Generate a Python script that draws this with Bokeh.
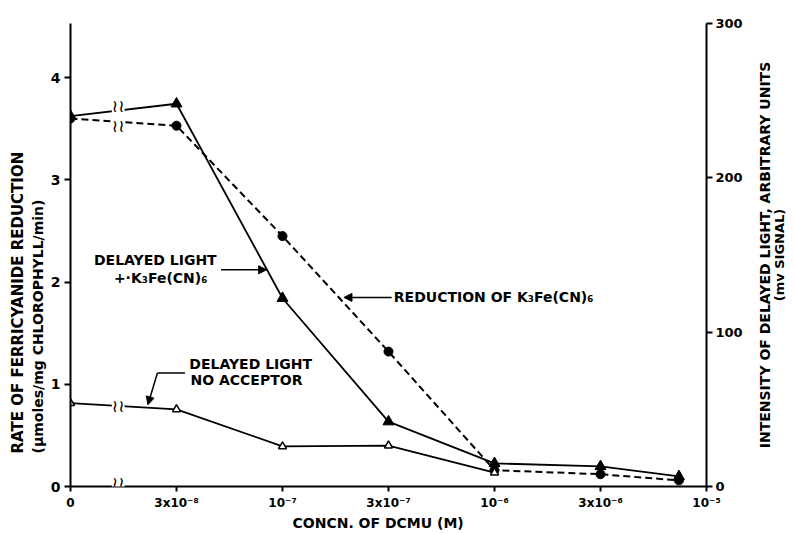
import math
import numpy as np
from bokeh.plotting import figure
from bokeh.layouts import row
from bokeh.models import Range1d, LinearAxis, FixedTicker, Label, Arrow, NormalHead, Title
from bokeh.embed import file_html
from bokeh.resources import INLINE

# ---- data ----
conc_labels = ["0", "3x10⁻⁸", "10⁻⁷", "3x10⁻⁷", "10⁻⁶", "3x10⁻⁶", "10⁻⁵"]
tick_pos = [0, 1, 2, 3, 4, 5, 6]
x_pts = [0, 1, 2, 3, 4, 5, 5.74]
reduction = [3.60, 3.53, 2.45, 1.32, 0.16, 0.12, 0.06]          # µmoles/mg chl/min
dl_acceptor = [240, 248, 122, 42, 15, 13, 6.5]                   # mV signal
x_noacc = [0, 1, 2, 3, 4]
dl_noacc = [54, 50, 26, 26.5, 9]                                 # mV signal
left_ticks = [0, 1, 2, 3, 4]
right_ticks = [0, 100, 200, 300]
break_x = 0.45

FONT = "DejaVu Sans"

p = figure(width=751, height=534, output_backend="svg", toolbar_location=None,
           x_range=Range1d(0, 6), y_range=Range1d(0, 4.53),
           min_border_left=70, min_border_right=45, min_border_top=23, min_border_bottom=48,
           background_fill_color="white", border_fill_color="white")
p.extra_y_ranges = {"right": Range1d(0, 300)}
p.outline_line_color = None
p.xgrid.visible = False
p.ygrid.visible = False

def style_axis(ax, size):
    ax.axis_line_width = 2
    ax.axis_line_color = "black"
    ax.major_tick_line_width = 2
    ax.minor_tick_line_color = None
    ax.major_label_text_font = FONT
    ax.major_label_text_font_style = "bold"
    ax.major_label_text_font_size = size
    ax.major_label_text_color = "black"

style_axis(p.xaxis[0], "12px")
style_axis(p.yaxis[0], "14px")

p.xaxis.ticker = FixedTicker(ticks=tick_pos)
p.xaxis.major_label_overrides = {t: l for t, l in zip(tick_pos, conc_labels)}
p.xaxis.major_tick_out = 5
p.xaxis.major_tick_in = 0
p.xaxis.major_label_standoff = 4

p.yaxis.ticker = FixedTicker(ticks=left_ticks)
p.yaxis.major_tick_out = 6
p.yaxis.major_tick_in = 0
p.yaxis.major_label_standoff = 4

ra = LinearAxis(y_range_name="right", ticker=FixedTicker(ticks=right_ticks))
style_axis(ra, "13px")
ra.major_tick_out = 6
ra.major_tick_in = 0
ra.major_label_standoff = 3
p.add_layout(ra, "right")

# axis titles placed as side titles
def side_title(text, side, offset, size, standoff):
    t = Title(text=text, align="left", offset=offset, text_font=FONT,
              text_font_style="bold", text_font_size=size, text_color="black",
              standoff=standoff)
    p.add_layout(t, side)

side_title("(µmoles/mg CHLOROPHYLL/min)", "left", 33, "14px", 3)
side_title("RATE OF FERRICYANIDE REDUCTION", "left", 33, "15px", 0)
side_title("CONCN. OF DCMU (M)", "below", 222, "14px", 0)

# lines
p.line(x_pts, reduction, line_color="black", line_width=2, line_dash="7 4")
p.line(x_pts, dl_acceptor, y_range_name="right", line_color="black", line_width=1.8)
p.line(x_noacc, dl_noacc, y_range_name="right", line_color="black", line_width=1.8)

# markers
p.scatter(x_pts, reduction, marker="circle", size=9, fill_color="black", line_color="black")
p.scatter(x_pts, dl_acceptor, y_range_name="right", marker="triangle", size=11,
          fill_color="black", line_color="black")
p.scatter(x_noacc, dl_noacc, y_range_name="right", marker="triangle", size=8,
          fill_color="white", line_color="black", line_width=1.5)

# axis breaks
def brk(x, y, rn="default"):
    lab = Label(x=x, y=y, text="≀≀", text_align="center", text_baseline="middle",
                text_font=FONT, text_font_size="17px", text_color="black",
                background_fill_color="white", y_range_name=rn)
    p.add_layout(lab)

brk(break_x, float(np.interp(break_x, x_pts, reduction)) - 0.04)
brk(break_x, float(np.interp(break_x, x_pts, dl_acceptor)) + 3, "right")
brk(break_x, float(np.interp(break_x, x_noacc, dl_noacc)), "right")
brk(break_x, 0.03)

# annotations
def txt(x, y, s, align="center", size="14px"):
    p.add_layout(Label(x=x, y=y, text=s, text_align=align, text_baseline="middle",
                       text_font=FONT, text_font_style="bold", text_font_size=size,
                       text_color="black"))

txt(0.80, 2.22, "DELAYED LIGHT")
txt(0.85, 2.04, "+·K₃Fe(CN)₆")
txt(3.05, 1.85, "REDUCTION OF K₃Fe(CN)₆", align="left")
txt(1.70, 1.20, "DELAYED LIGHT")
txt(1.66, 1.04, "NO ACCEPTOR")

head = dict(size=8, fill_color="black", line_color="black")
p.add_layout(Arrow(end=NormalHead(**head), x_start=1.42, y_start=2.12, x_end=1.85, y_end=2.12,
                   line_width=1.5))
p.add_layout(Arrow(end=NormalHead(**head), x_start=3.03, y_start=1.85, x_end=2.58, y_end=1.85,
                   line_width=1.5))
p.line([1.08, 0.82], [1.11, 1.11], line_color="black", line_width=1.5)
p.add_layout(Arrow(end=NormalHead(**head), x_start=0.82, y_start=1.11, x_end=0.73, y_end=0.80,
                   line_width=1.5))

# right-hand axis title strip
p2 = figure(width=43, height=534, output_backend="svg", toolbar_location=None,
            x_range=Range1d(0, 43), y_range=Range1d(0, 534),
            x_axis_type=None, y_axis_type=None, min_border=0,
            background_fill_color="white", border_fill_color="white")
p2.outline_line_color = None
p2.xgrid.visible = False
p2.ygrid.visible = False
p2.add_layout(Label(x=13, y=267, text="INTENSITY OF DELAYED LIGHT, ARBITRARY UNITS",
                    text_align="center", text_baseline="middle", angle=math.pi / 2,
                    text_font=FONT, text_font_style="bold", text_font_size="14px",
                    text_color="black"))
p2.add_layout(Label(x=28, y=267, text="(mv SIGNAL)",
                    text_align="center", text_baseline="middle", angle=math.pi / 2,
                    text_font=FONT, text_font_style="bold", text_font_size="13px",
                    text_color="black"))

layout = row(p, p2, spacing=0)
open("out.html", "w").write(file_html(layout, INLINE))
